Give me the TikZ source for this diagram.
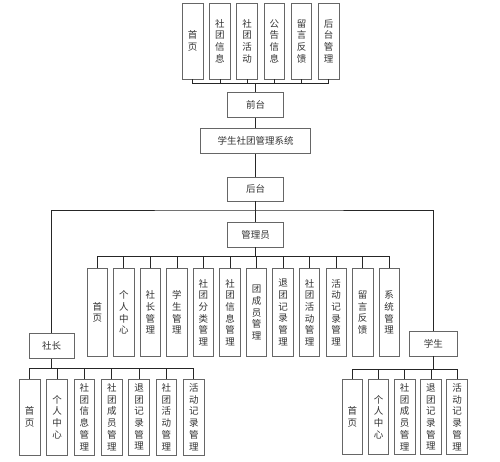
\documentclass[tikz,border=0pt]{standalone}
\usepackage{fontspec}
\setmainfont{Noto Sans CJK SC}
\begin{document}
\begin{tikzpicture}[x=1pt, y=-1pt, line width=0.8pt]
    \tikzset{%
      kasten/.style={draw=black!60, fill=white, inner sep=0pt, text=black!80,
        font=\fontsize{9.5}{11.7}\selectfont, align=center},
      hbox/.style={kasten, minimum height=25pt},
      vbox/.style={kasten, minimum width=20.5pt},
      verb/.style={draw=black!85}
      }
    \useasboundingbox (0,0) rectangle (500,461);

    % Vordergrund
    \node [hbox, minimum width=56pt] (Qtai) at (255.5, 105) {前台};
    \node [hbox, minimum width=110pt] (Xitong) at (255.5, 141) {学生社团管理系统};
    \node [hbox, minimum width=56pt, minimum height=24pt] (Htai) at (255.5, 189) {后台};
    \coordinate (Qbus) at (255.5, 83);
    \draw [verb] (Qtai.north) -- (Qbus);
    \draw [verb] (Qtai.south) -- (Xitong.north);
    \draw [verb] (Xitong.south) -- (Htai.north);
    \foreach \txt [count=\i] in {{首\\页}, {社\\团\\信\\息}, {社\\团\\活\\动},
        {公\\告\\信\\息}, {留\\言\\反\\馈}, {后\\台\\管\\理}} {
      \node [vbox, minimum height=76pt] (Qt\i) at ({192.7+(\i-1)*27.2}, 41) {\txt};
      \draw [verb] (Qt\i.south) |- (Qbus);
    }

    % Hintergrund
    \node [hbox, minimum width=56pt] (Gly) at (255.5, 234.5) {管理员};
    \node [hbox, minimum width=45pt] (Shez) at (51.7, 346) {社长};
    \node [hbox, minimum width=48pt] (Xues) at (433.3, 343.5) {学生};
    \coordinate (Hbus) at (255.5, 210);
    \draw [verb] (Htai.south) -- (Gly.north);
    \draw [verb] (Shez.north) |- (Hbus) -| (Xues.north);

    \coordinate (Gbus) at (255.5, 256.7);
    \draw [verb] (Gly.south) -- (Gbus);
    \foreach \txt [count=\i] in {{首\\页}, {个\\人\\中\\心}, {社\\长\\管\\理},
        {学\\生\\管\\理}, {社\\团\\分\\类\\管\\理}, {社\\团\\信\\息\\管\\理},
        {团\\成\\员\\管\\理}, {退\\团\\记\\录\\管\\理}, {社\\团\\活\\动\\管\\理},
        {活\\动\\记\\录\\管\\理}, {留\\言\\反\\馈}, {系\\统\\管\\理}} {
      \node [vbox, minimum height=88pt] (Gl\i) at ({97.3+(\i-1)*26.54}, 312.5) {\txt};
      \draw [verb] (Gl\i.north) |- (Gbus);
    }

    \coordinate (Sbus) at (51.7, 368.3);
    \draw [verb] (Shez.south) -- (Sbus);
    \foreach \txt [count=\i] in {{首\\页}, {个\\人\\中\\心}, {社\\团\\信\\息\\管\\理},
        {社\\团\\成\\员\\管\\理}, {退\\团\\记\\录\\管\\理}, {社\\团\\活\\动\\管\\理},
        {活\\动\\记\\录\\管\\理}} {
      \node [vbox, minimum height=76pt] (Sz\i) at ({29.7+(\i-1)*27.35}, 417) {\txt};
      \draw [verb] (Sz\i.north) |- (Sbus);
    }

    \coordinate (Xbus) at (433.3, 369.3);
    \draw [verb] (Xues.south) -- (Xbus);
    \foreach \txt [count=\i] in {{首\\页}, {个\\人\\中\\心}, {社\\团\\成\\员\\管\\理},
        {退\\团\\记\\录\\管\\理}, {活\\动\\记\\录\\管\\理}} {
      \node [vbox, minimum height=75pt] (Xs\i) at ({352.3+(\i-1)*26.2}, 417) {\txt};
      \draw [verb] (Xs\i.north) |- (Xbus);
    }
  \end{tikzpicture}
\end{document}
